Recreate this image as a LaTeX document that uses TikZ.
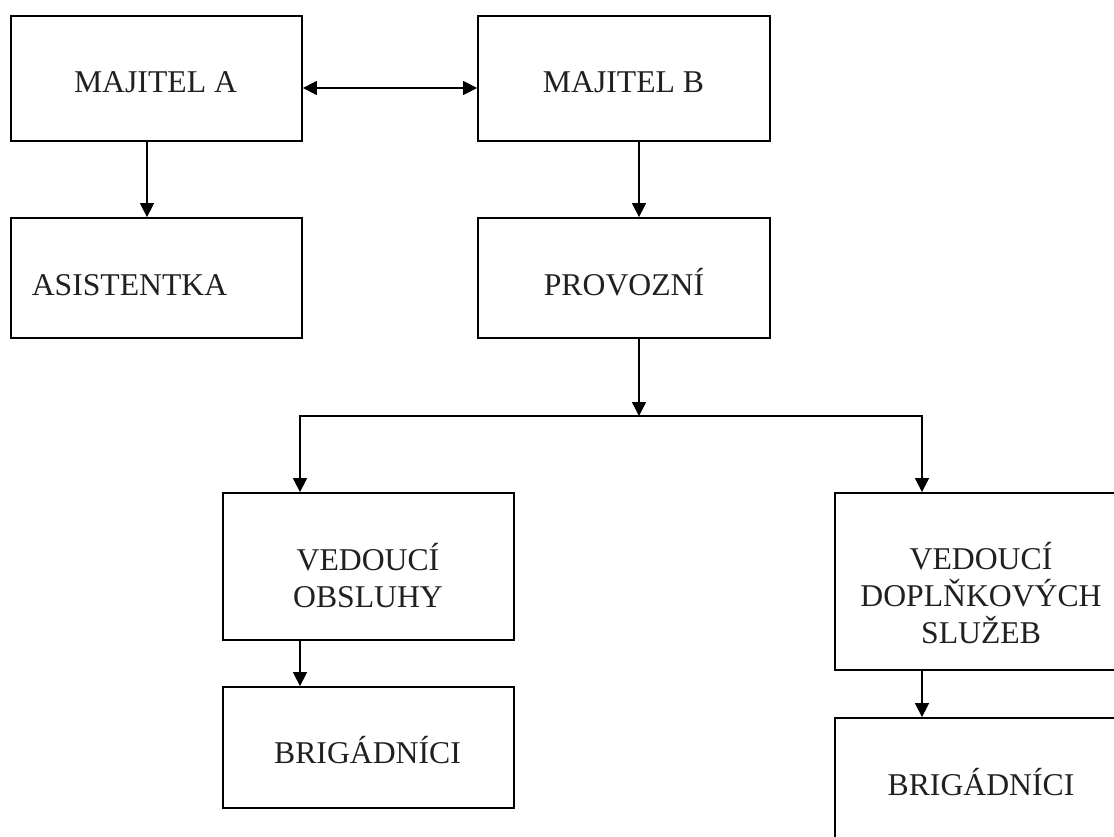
\documentclass[tikz,border=0pt]{standalone}
\usepackage{fontspec}
\setmainfont{Liberation Serif}
\usetikzlibrary{arrows.meta}
\definecolor{ink}{HTML}{231F20}
\tikzset{
  boxnode/.style={draw=black, line width=1.8pt, inner sep=0pt, rectangle},
  lbl/.style={anchor=base, inner sep=0pt, text=ink, font=\fontsize{31.7pt}{37pt}\selectfont},
  conn/.style={draw=black, line width=1.5pt},
  arr/.style={conn, -{Triangle[length=14pt,width=14pt]}},
  darr/.style={conn, {Triangle[length=14pt,width=14pt]}-{Triangle[length=14pt,width=14pt]}}
}
\begin{document}
\begin{tikzpicture}[x=1pt,y=-1pt]
\clip (0,0) rectangle (1114,837);
\fill[white] (0,0) rectangle (1114,837);
% boxes
\node[boxnode, minimum width=291pt, minimum height=125pt] (ma) at (156.5,78.5) {};
\node[boxnode, minimum width=292pt, minimum height=125pt] (mb) at (624,78.5) {};
\node[boxnode, minimum width=291pt, minimum height=120pt] (as) at (156.5,278) {};
\node[boxnode, minimum width=292pt, minimum height=120pt] (pr) at (624,278) {};
\node[boxnode, minimum width=291pt, minimum height=147pt] (vo) at (368.5,566.5) {};
\node[boxnode, minimum width=291pt, minimum height=177pt] (vd) at (980.5,581.5) {};
\node[boxnode, minimum width=291pt, minimum height=121pt] (bl) at (368.5,747.5) {};
\node[boxnode, minimum width=291pt, minimum height=121pt] (br) at (980.5,778.5) {};
% labels
\node[lbl] (tma) at (155.5,93) {MAJITEL A};
\node[lbl] (tmb) at (623.5,93) {MAJITEL B};
\node[lbl] (tas) at (129.5,295) {ASISTENTKA};
\node[lbl] (tpr) at (624,295) {PROVOZNÍ};
\node[lbl] (tvo1) at (368,570) {VEDOUCÍ};
\node[lbl] (tvo2) at (368,607) {OBSLUHY};
\node[lbl] (tvd1) at (981,569) {VEDOUCÍ};
\node[lbl] (tvd2) at (981,606) {DOPLŇKOVÝCH};
\node[lbl] (tvd3) at (981,643) {SLUŽEB};
\node[lbl] (tbl) at (367.5,763) {BRIGÁDNÍCI};
\node[lbl] (tbr) at (981,795) {BRIGÁDNÍCI};
% junction coordinates
\coordinate (j) at (639,416);
\coordinate (jl) at (300,416);
\coordinate (jr) at (922,416);
% connectors
\draw[darr] ([yshift=-9.5pt]ma.east) -- ([yshift=-9.5pt]mb.west);
\draw[arr] ([xshift=-9.5pt]ma.south) -- ([xshift=-9.5pt]as.north);
\draw[arr] ([xshift=15pt]mb.south) -- ([xshift=15pt]pr.north);
\draw[arr] ([xshift=15pt]pr.south) -- (j);
\draw[arr] (j) -| (jl |- vo.north);
\draw[arr] (j) -| (jr |- vd.north);
\draw[arr] (jl |- vo.south) -- (jl |- bl.north);
\draw[arr] (jr |- vd.south) -- (jr |- br.north);
\end{tikzpicture}
\end{document}
